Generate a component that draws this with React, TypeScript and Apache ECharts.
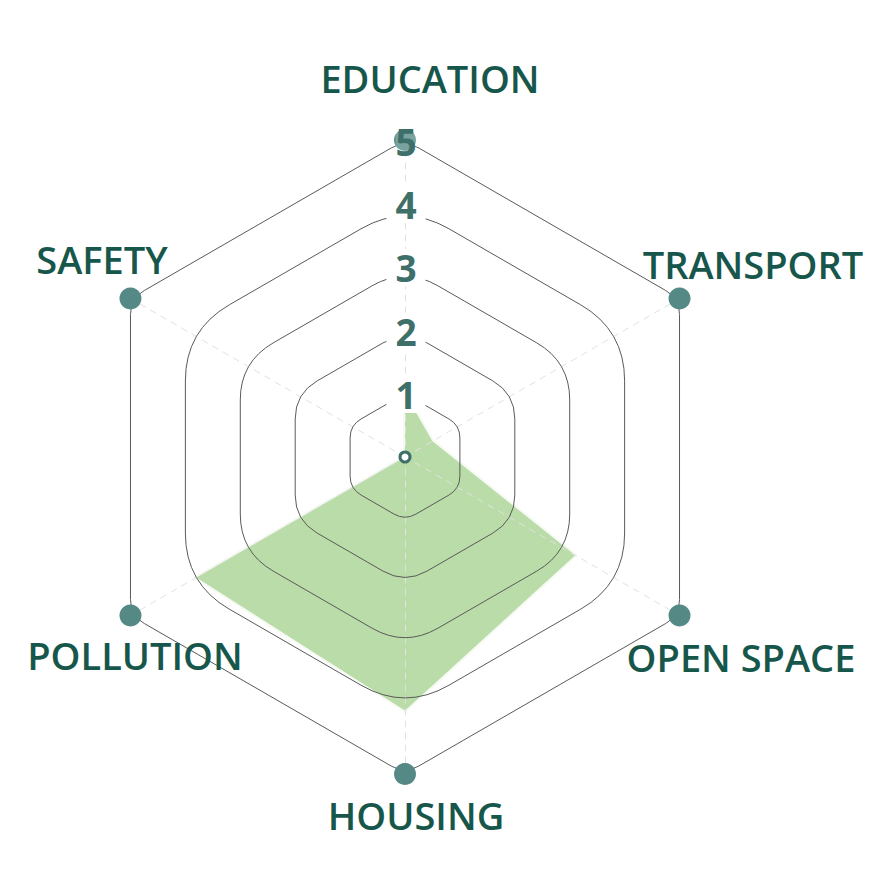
import React, { useEffect, useRef } from "react";
import * as echarts from "echarts";

// ---- data ----
const categories = ["EDUCATION", "TRANSPORT", "OPEN SPACE", "HOUSING", "POLLUTION", "SAFETY"];
const scores = [1, 0.5, 3.1, 4, 3.8, 0];
const tickLabels = ["1", "2", "3", "4", "5"];
const maxValue = 5;

// ---- layout ----
const CX = 405;
const CY = 457;
const R = 317;
const labelAnchors: [number, number][] = [
  [430, 78],
  [753, 264],
  [741, 657],
  [416, 815],
  [135, 655],
  [102, 259],
];

const TEXT_COLOR = "#17574b";
const TICK_COLOR = "#3e6f69";
const DOT_COLOR = "#548985";
const FILL_COLOR = "#badca8";

let registered = false;
function registerShapes() {
  if (registered) return;
  registered = true;
  const RoundHex = echarts.graphic.extendShape({
    shape: { cx: 0, cy: 0, r: 10, t: 5 },
    buildPath(ctx: any, shape: any) {
      const n = 6;
      const pts: [number, number][] = [];
      for (let i = 0; i < n; i++) {
        const a = ((90 - i * 60) * Math.PI) / 180;
        pts.push([shape.cx + shape.r * Math.cos(a), shape.cy - shape.r * Math.sin(a)]);
      }
      const toward = (v: [number, number], w: [number, number], t: number): [number, number] => {
        const dx = w[0] - v[0];
        const dy = w[1] - v[1];
        const len = Math.sqrt(dx * dx + dy * dy) || 1;
        return [v[0] + (dx / len) * t, v[1] + (dy / len) * t];
      };
      const t = shape.t;
      const B0 = toward(pts[0], pts[1], t);
      ctx.moveTo(B0[0], B0[1]);
      for (let k = 1; k <= n; k++) {
        const i = k % n;
        const V = pts[i];
        const A = toward(V, pts[(i + n - 1) % n], t);
        const B = toward(V, pts[(i + 1) % n], t);
        ctx.lineTo(A[0], A[1]);
        ctx.quadraticCurveTo(V[0], V[1], B[0], B[1]);
      }
      ctx.closePath();
    },
  });
  echarts.graphic.registerShape("roundHex", RoundHex);
}

export default function App() {
  const ref = useRef<HTMLDivElement>(null);

  useEffect(() => {
    if (!ref.current) return;
    registerShapes();
    const chart = echarts.init(ref.current, null, { renderer: "svg" });

    // ECharts radar places indicators counter-clockwise; chart reads clockwise
    const order = [0, ...categories.slice(1).map((_, i) => categories.length - 1 - i)];
    const indicator = order.map((i) => ({ name: categories[i], min: 0, max: maxValue }));
    const values = order.map((i) => scores[i]);

    const graphics: any[] = [];
    tickLabels.forEach((_, idx) => {
      const v = idx + 1;
      const r = (R * v) / maxValue;
      graphics.push({
        type: "roundHex",
        z: 5,
        silent: true,
        shape: { cx: CX, cy: CY, r, t: v === maxValue ? 16 : r * 0.2 },
        style: { fill: "none", stroke: "#5a5a5a", lineWidth: 1 },
      });
    });
    tickLabels.forEach((lab, idx) => {
      const v = idx + 1;
      const r = (R * v) / maxValue;
      graphics.push({
        type: "text",
        z: 30,
        silent: true,
        style: {
          text: lab,
          x: CX + 1,
          y: CY - r + 1,
          fill: TICK_COLOR,
          font: "bold 37px 'Open Sans'",
          align: "center",
          verticalAlign: "middle",
          textAlign: "center",
          textVerticalAlign: "middle",
          backgroundColor: v === maxValue ? "rgba(255,255,255,0.22)" : "#ffffff",
          padding: v === maxValue ? [0, 0] : [0, 9],
        },
      });
    });
    graphics.push({
      type: "circle",
      z: 30,
      silent: true,
      shape: { cx: CX, cy: CY, r: 5 },
      style: { fill: "#ffffff", stroke: TICK_COLOR, lineWidth: 3 },
    });
    categories.forEach((name, i) => {
      const [x, y] = labelAnchors[i];
      graphics.push({
        type: "text",
        z: 30,
        silent: true,
        style: {
          text: name,
          x,
          y,
          fill: TEXT_COLOR,
          font: "600 38px 'Open Sans'",
          align: "center",
          verticalAlign: "middle",
          textAlign: "center",
          textVerticalAlign: "middle",
        },
      });
    });

    chart.setOption({
      animation: false,
      backgroundColor: "#ffffff",
      radar: {
        center: [CX, CY],
        radius: R,
        startAngle: 90,
        shape: "polygon",
        splitNumber: 5,
        indicator,
        axisName: { show: false },
        splitLine: { show: false },
        splitArea: { show: false },
        axisTick: { show: false },
        axisLabel: { show: false },
        axisLine: { lineStyle: { color: "#e2e2e2", type: [6, 6], width: 1 } },
        z: 3,
      },
      graphic: { elements: graphics },
      series: [
        {
          type: "radar",
          z: 1,
          silent: true,
          symbol: "none",
          data: [
            {
              value: values,
              lineStyle: { color: "rgba(245,250,242,0.9)", width: 4, join: "round" },
              areaStyle: { color: FILL_COLOR, opacity: 1 },
            },
          ],
        },
        {
          type: "radar",
          z: 10,
          silent: true,
          symbol: "circle",
          symbolSize: 22,
          data: [
            {
              value: order.map(() => maxValue),
              itemStyle: { color: DOT_COLOR },
              lineStyle: { opacity: 0, width: 0 },
            },
          ],
        },
      ],
    });
    return () => chart.dispose();
  }, []);

  return (
    <div
      ref={ref}
      style={{ position: "fixed", left: 0, top: 0, width: 879, height: 879, background: "#fff" }}
    />
  );
}
